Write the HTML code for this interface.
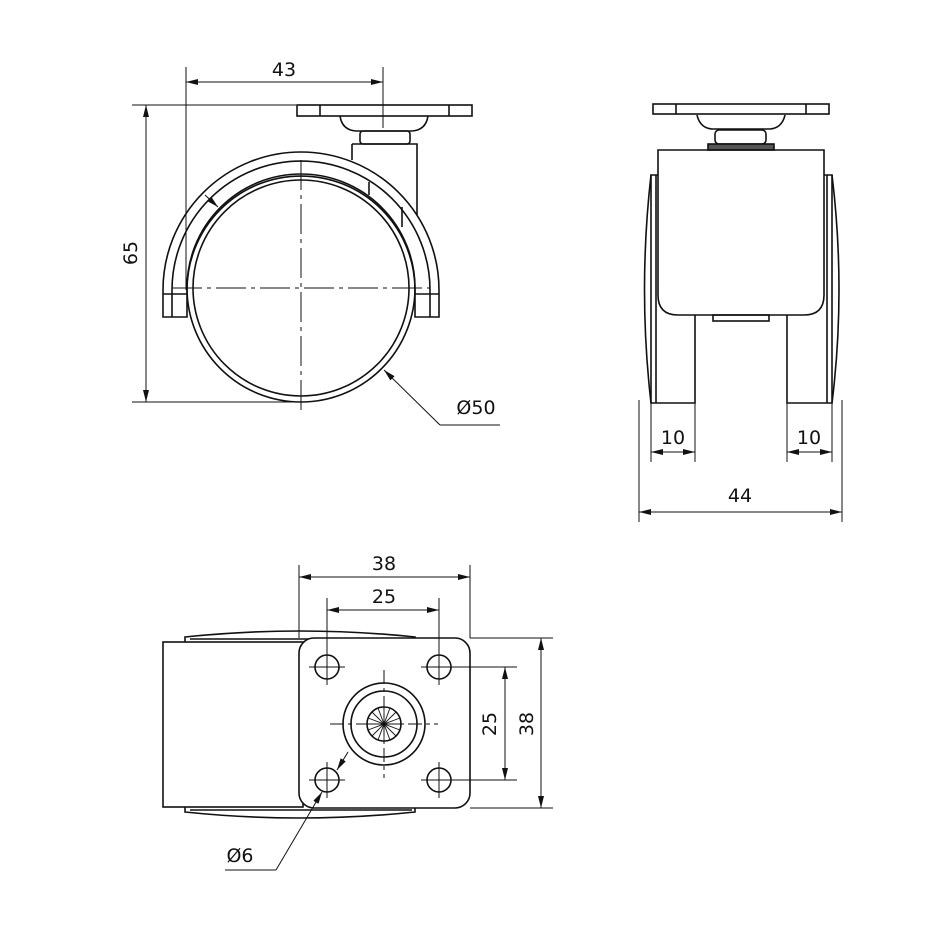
<!DOCTYPE html>
<html><head><style>body{margin:0;background:#fff}svg{display:block}text{font-family:"DejaVu Sans","Liberation Sans",sans-serif;font-size:19px;fill:#111}</style></head>
<body>
<svg width="950" height="950" viewBox="0 0 950 950" xmlns="http://www.w3.org/2000/svg">
<defs><marker id="a" markerWidth="12" markerHeight="6" refX="12" refY="3" orient="auto-start-reverse" markerUnits="userSpaceOnUse"><path d="M0,0 L12,3 L0,6 z" fill="#111"/></marker></defs>
<g fill="none" stroke="#111" stroke-width="1.6">
<!-- side view -->
<rect x="297" y="105" width="175" height="11"/>
<line x1="320" y1="105" x2="320" y2="116"/><line x1="449" y1="105" x2="449" y2="116"/>
<path d="M340,116 Q342,130 356,131 L412,131 Q426,130 428,116"/>
<rect x="360" y="131" width="50" height="13" rx="3"/>
<path d="M352,144 L417,144 L417,215 M352,144 L352,160"/>
<path d="M163,317 L163,290 A138,138 0 0 1 439,290 L439,317 L415,317 L415,290 A114,114 0 0 0 187,290 L187,317 Z"/>
<path d="M172,317 L172,290 A129,129 0 0 1 430,290 L430,317"/>
<line x1="163" y1="294" x2="187" y2="294"/><line x1="415" y1="294" x2="439" y2="294"/>
<circle cx="301" cy="288" r="114"/>
<circle cx="301" cy="288" r="108"/>
<line x1="369" y1="182" x2="369" y2="195"/><line x1="402" y1="207" x2="402" y2="227"/>
</g>
<g stroke="#111" stroke-width="1" fill="none">
<line x1="301" y1="160" x2="301" y2="410" stroke-dasharray="30,5,4,5"/>
<line x1="172" y1="288" x2="430" y2="288" stroke-dasharray="30,5,4,5"/>
<line x1="186" y1="67" x2="186" y2="290"/><line x1="383" y1="67" x2="383" y2="128"/>
<line x1="186" y1="82" x2="383" y2="82" marker-start="url(#a)" marker-end="url(#a)"/>
<line x1="132" y1="105" x2="296" y2="105"/><line x1="132" y1="402" x2="300" y2="402"/>
<line x1="146" y1="105" x2="146" y2="402" marker-start="url(#a)" marker-end="url(#a)"/>
<line x1="500" y1="425" x2="440" y2="425"/><line x1="440" y1="425" x2="384" y2="370" marker-end="url(#a)"/>
<line x1="205" y1="195" x2="218" y2="207" marker-end="url(#a)"/>
</g>
<text x="284" y="76" text-anchor="middle">43</text>
<text transform="translate(137,253) rotate(-90)" text-anchor="middle">65</text>
<text x="476" y="414" text-anchor="middle">Ø50</text>
<!-- right view -->
<g fill="none" stroke="#111" stroke-width="1.6">
<rect x="653" y="104" width="176" height="10"/>
<line x1="676" y1="104" x2="676" y2="114"/><line x1="806" y1="104" x2="806" y2="114"/>
<path d="M697,115 Q700,128 712,129 L770,129 Q782,128 785,115"/>
<rect x="715" y="130" width="51" height="14" rx="4"/>
<rect x="708" y="144" width="66" height="6" fill="#555"/>
<path d="M658,150 L824,150 L824,295 Q824,315 804,315 L678,315 Q658,315 658,295 Z"/>
<rect x="713" y="315" width="56" height="6"/>
<path d="M695,315 L695,403 L651,403 L651,175 L658,175"/>
<path d="M787,315 L787,403 L832,403 L832,175 L824,175"/>
<path d="M651,175 Q638,290 651,403"/><path d="M832,175 Q846,290 832,403"/>
<line x1="656" y1="175" x2="656" y2="403"/><line x1="827" y1="175" x2="827" y2="403"/>
</g>
<g stroke="#111" stroke-width="1" fill="none">
<line x1="651" y1="403" x2="651" y2="462"/><line x1="695" y1="403" x2="695" y2="462"/>
<line x1="787" y1="403" x2="787" y2="462"/><line x1="832" y1="403" x2="832" y2="462"/>
<line x1="651" y1="452" x2="695" y2="452" marker-start="url(#a)" marker-end="url(#a)"/>
<line x1="787" y1="452" x2="832" y2="452" marker-start="url(#a)" marker-end="url(#a)"/>
<line x1="639" y1="400" x2="639" y2="522"/><line x1="842" y1="400" x2="842" y2="522"/>
<line x1="639" y1="512" x2="842" y2="512" marker-start="url(#a)" marker-end="url(#a)"/>
</g>
<text x="673" y="444" text-anchor="middle">10</text>
<text x="809" y="444" text-anchor="middle">10</text>
<text x="740" y="502" text-anchor="middle">44</text>
<!-- bottom view -->
<g fill="none" stroke="#111" stroke-width="1.6">
<rect x="163" y="642" width="140" height="165"/>
<path d="M185,642 L185,637 Q300,625 415,637 L415,642"/><line x1="190" y1="639" x2="412" y2="639"/>
<path d="M185,807 L185,812 Q300,824 415,812 L415,807"/><line x1="190" y1="810" x2="412" y2="810"/>
<rect x="299" y="638" width="171" height="170" rx="15" fill="#fff"/>
<circle cx="327" cy="667" r="12"/><circle cx="439" cy="667" r="12"/>
<circle cx="327" cy="780" r="12"/><circle cx="439" cy="780" r="12"/>
<circle cx="384" cy="724" r="41"/><circle cx="384" cy="724" r="33"/><circle cx="384" cy="724" r="17"/>
</g>
<g stroke="#111" stroke-width="0.9">
<line x1="384" y1="707" x2="384" y2="741"/><line x1="367" y1="724" x2="401" y2="724"/>
<line x1="372" y1="712" x2="396" y2="736"/><line x1="396" y1="712" x2="372" y2="736"/>
<line x1="378" y1="708" x2="390" y2="740"/><line x1="390" y1="708" x2="378" y2="740"/>
<line x1="368" y1="718" x2="400" y2="730"/><line x1="368" y1="730" x2="400" y2="718"/>
</g>
<g stroke="#111" stroke-width="1" fill="none">
<g stroke-dasharray="14,4,4,4">
<line x1="384" y1="670" x2="384" y2="778"/><line x1="330" y1="724" x2="438" y2="724"/>
</g>
<path d="M309,667 h36 M327,649 v36 M421,667 h36 M439,649 v36 M309,780 h36 M327,762 v36 M421,780 h36 M439,762 v36"/>
<line x1="299" y1="565" x2="299" y2="638"/><line x1="470" y1="565" x2="470" y2="638"/>
<line x1="327" y1="598" x2="327" y2="655"/><line x1="439" y1="598" x2="439" y2="655"/>
<line x1="299" y1="577" x2="470" y2="577" marker-start="url(#a)" marker-end="url(#a)"/>
<line x1="327" y1="610" x2="439" y2="610" marker-start="url(#a)" marker-end="url(#a)"/>
<line x1="451" y1="667" x2="517" y2="667"/><line x1="451" y1="780" x2="517" y2="780"/>
<line x1="470" y1="638" x2="553" y2="638"/><line x1="470" y1="808" x2="553" y2="808"/>
<line x1="505" y1="667" x2="505" y2="780" marker-start="url(#a)" marker-end="url(#a)"/>
<line x1="541" y1="638" x2="541" y2="808" marker-start="url(#a)" marker-end="url(#a)"/>
<line x1="225" y1="870" x2="276" y2="870"/><line x1="276" y1="870" x2="322" y2="792" marker-end="url(#a)"/>
<line x1="348" y1="752" x2="337" y2="770" marker-end="url(#a)"/>
</g>
<text x="384" y="570" text-anchor="middle">38</text>
<text x="384" y="603" text-anchor="middle">25</text>
<text transform="translate(496,724) rotate(-90)" text-anchor="middle">25</text>
<text transform="translate(533,724) rotate(-90)" text-anchor="middle">38</text>
<text x="240" y="862" text-anchor="middle">Ø6</text>
</svg>
</body></html>
